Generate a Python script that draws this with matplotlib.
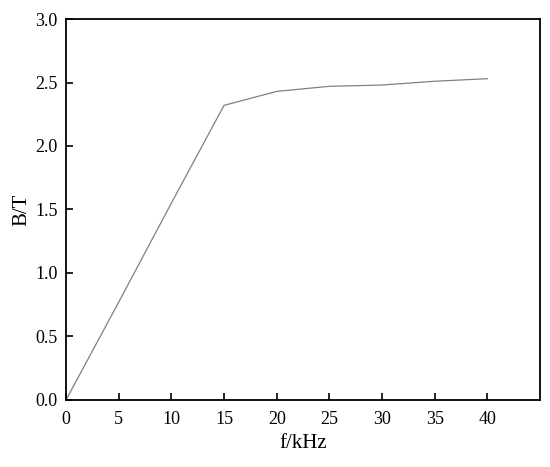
import matplotlib
matplotlib.use('Agg')
import matplotlib.pyplot as plt

# frequency (kHz) and flux density (T)
freq = [0, 5, 10, 15, 20, 25, 30, 35, 40]
flux = [0, 0.77, 1.55, 2.32, 2.43, 2.47, 2.48, 2.51, 2.53]

xticks = [0, 5, 10, 15, 20, 25, 30, 35, 40]
yticks = [0.0, 0.5, 1.0, 1.5, 2.0, 2.5, 3.0]

plt.rcParams['font.family'] = ['Liberation Serif', 'DejaVu Serif']

fig = plt.figure(figsize=(5.5, 4.67), dpi=100)
ax = fig.add_axes([0.12, 0.1435, 0.862, 0.8158])
ax.plot(freq, flux, color='#808080', linewidth=0.9)

ax.set_xlim(0, 45)
ax.set_ylim(0, 3.0)
ax.set_xticks(xticks)
ax.set_yticks(yticks)
ax.set_yticklabels(['%.1f' % v for v in yticks])
ax.tick_params(direction='in', length=5, width=1.2, labelsize=13, colors='black')
ax.tick_params(axis='x', pad=8)
ax.tick_params(axis='y', pad=6)
for s in ax.spines.values():
    s.set_linewidth(1.3)

ax.set_xlabel('f/kHz', fontsize=15, labelpad=4)
ax.set_ylabel('B/T', fontsize=15, labelpad=3)

plt.savefig('out.png', dpi=100)
